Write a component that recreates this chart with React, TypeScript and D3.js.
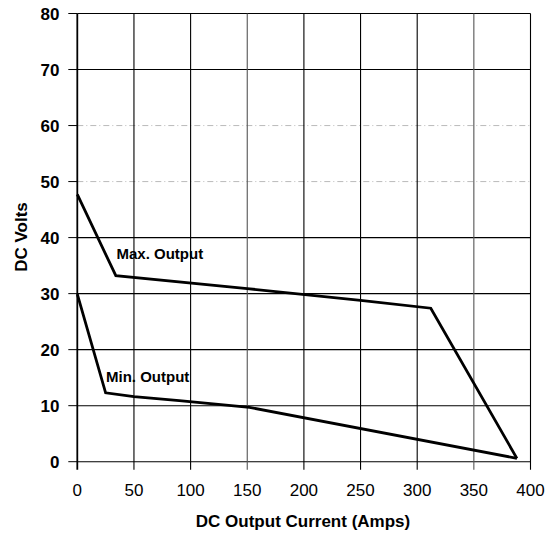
import React from "react";
import * as d3 from "d3";

const xTicks = [0, 50, 100, 150, 200, 250, 300, 350, 400];
const yTicks = [0, 10, 20, 30, 40, 50, 60, 70, 80];
const faintY = [50, 60];
const greyX = [150, 350];

const maxAmps = [0, 34, 150, 250, 312, 388];
const maxVolts = [47.7, 33.2, 30.9, 28.8, 27.4, 0.6];
const minAmps = [0, 25, 50, 90, 152, 388];
const minVolts = [29.9, 12.3, 11.6, 10.9, 9.7, 0.6];

const W = 546;
const H = 533;
const left = 77.3;
const right = 530.5;
const top = 13.5;
const bottom = 461.7;

export default function App() {
  const x = d3.scaleLinear().domain([0, 400]).range([left, right]);
  const y = d3.scaleLinear().domain([0, 80]).range([bottom, top]);
  const line = d3
    .line<[number, number]>()
    .x((d) => x(d[0]))
    .y((d) => y(d[1]));
  const maxPts: [number, number][] = maxAmps.map((a, i) => [a, maxVolts[i]]);
  const minPts: [number, number][] = minAmps.map((a, i) => [a, minVolts[i]]);
  const font = "Liberation Sans, Arial, Helvetica, sans-serif";
  return (
    <svg
      width={W}
      height={H}
      style={{ position: "absolute", left: 0, top: 0, background: "#fff" }}
      fontFamily={font}
    >
      <rect width={W} height={H} fill="#fff" />
      {yTicks.map((t) => {
        const faint = faintY.includes(t);
        return (
          <g key={"y" + t}>
            <line
              x1={left - 9}
              x2={left}
              y1={y(t)}
              y2={y(t)}
              stroke="#000"
              strokeWidth={1}
            />
            <line
              x1={left}
              x2={right}
              y1={y(t)}
              y2={y(t)}
              stroke={faint ? "#aaa" : "#000"}
              strokeWidth={faint ? 0.8 : 1.1}
              strokeDasharray={faint ? "6 3 1 3" : undefined}
            />
            <text
              x={59.5}
              y={y(t)}
              dy="0.36em"
              textAnchor="end"
              fontSize={17}
              fontWeight="bold"
              fill="#000"
            >
              {t}
            </text>
          </g>
        );
      })}
      {xTicks.map((t) => {
        const grey = greyX.includes(t);
        return (
          <g key={"x" + t}>
            <line
              x1={x(t)}
              x2={x(t)}
              y1={top}
              y2={bottom + 8}
              stroke={grey ? "#555" : "#000"}
              strokeWidth={t === 0 ? 1.8 : 1.1}
            />
            <text
              x={x(t)}
              y={496}
              textAnchor="middle"
              fontSize={17}
              fill="#000"
            >
              {t}
            </text>
          </g>
        );
      })}
      <path d={line(maxPts) || ""} fill="none" stroke="#000" strokeWidth={2.8} strokeLinejoin="miter" />
      <path d={line(minPts) || ""} fill="none" stroke="#000" strokeWidth={2.8} strokeLinejoin="miter" />
      <text x={116.5} y={259} fontSize={15} fontWeight="bold" fill="#000">
        Max. Output
      </text>
      <text x={106} y={382} fontSize={15} fontWeight="bold" fill="#000">
        Min. Output
      </text>
      <text
        x={303}
        y={527}
        textAnchor="middle"
        fontSize={17}
        fontWeight="bold"
        fill="#000"
      >
        DC Output Current (Amps)
      </text>
      <text
        transform={`translate(27,237) rotate(-90)`}
        textAnchor="middle"
        fontSize={17}
        fontWeight="bold"
        fill="#000"
      >
        DC Volts
      </text>
    </svg>
  );
}
